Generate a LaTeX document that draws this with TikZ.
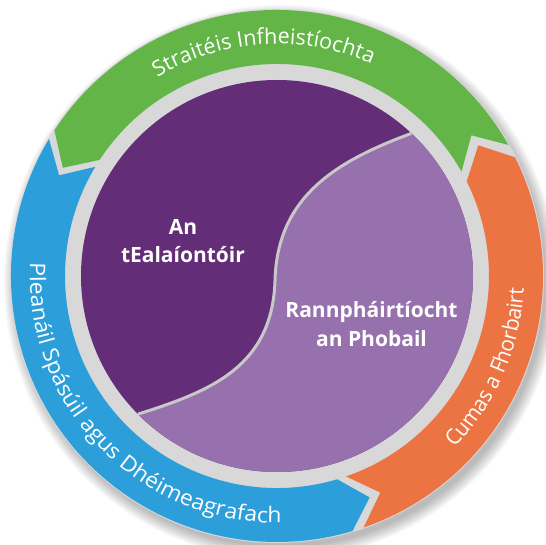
\documentclass[tikz,border=0pt]{standalone}
\usepackage{fontspec}
\newfontfamily\ringfont{Open Sans}
\newfontfamily\ringfontwide{Open Sans}[FakeStretch=1.07]
\newfontfamily\ringfontnarrow{Open Sans}[FakeStretch=0.96]
\usetikzlibrary{decorations.text}
\definecolor{arrgreen}{HTML}{63B548}
\definecolor{arrblue}{HTML}{2C9FDB}
\definecolor{arrorange}{HTML}{EC7443}
\definecolor{darkpurple}{HTML}{632E77}
\definecolor{lightpurple}{HTML}{9771AD}
\definecolor{ringgray}{HTML}{D8D8D8}
\definecolor{seamgray}{HTML}{C8C8C8}
\pgfdeclareradialshading{ringshade}{\pgfpoint{0bp}{0bp}}{%
  color(0bp)=(ringgray); color(45.5bp)=(ringgray); color(46.2bp)=(black!22);
  color(48bp)=(black!12); color(50bp)=(black!10)}
\newcommand\ringarrow[4]{%
  \fill[#1] (#2:266pt) arc[start angle=#2, end angle=#3, radius=266pt]
    -- ({#3+#4}:240pt) -- (#3:212pt)
    arc[start angle=#3, end angle=#2, radius=212pt]
    -- ({#2+#4}:240pt) -- cycle;}
\tikzset{
  innerlabel/.style={text=white, font=\ringfont\bfseries\fontsize{21}{25}\selectfont, anchor=base, inner sep=0pt},
  ringtext/.style 2 args={decorate, decoration={text along path, text align=center,
      text={|#1\fontsize{21.5}{25}\selectfont\color{white}|#2}}}
}
\begin{document}
\begin{tikzpicture}
\useasboundingbox (-277pt,-269pt) rectangle (269pt,276pt);
\fill[white] (-277pt,-269pt) rectangle (269pt,276pt);
% soft drop shadow
\foreach \i in {1,...,12}{
  \fill[black, opacity=0.022] (4pt,-6pt) circle[radius={264pt+\i*1.1pt}];
}
% base gray ring
\fill[ringgray] (0,0) circle[radius=267pt];
\shade[shading=ringshade] (0,0) circle[radius=213pt];
% three arrows (counterclockwise)
\ringarrow{arrorange}{289}{386.5}{6.5}
\ringarrow{arrgreen}{29.5}{146.8}{6.4}
\ringarrow{arrblue}{149}{286.5}{6.2}
% inner disc
\fill[darkpurple] (0,0) circle[radius=196pt];
\coordinate (p1) at (46.7:196pt);
\coordinate (p2) at (224.8:196pt);
\coordinate (m) at (-2pt,-5pt);
\fill[lightpurple] (p1) arc[start angle=46.7, end angle=-135.2, radius=196pt]
  .. controls (-65pt,-115pt) and (-5pt,-90pt) .. (m)
  .. controls (0pt,80pt) and (60pt,115pt) .. (p1) -- cycle;
\draw[seamgray, line width=3pt] (p2)
  .. controls (-65pt,-115pt) and (-5pt,-90pt) .. (m)
  .. controls (0pt,80pt) and (60pt,115pt) .. (p1);
% labels on the inner disc
\node[innerlabel] (an) at (-94pt,41pt) {An};
\node[innerlabel] (teal) at (-94pt,13pt) {tEalaíontóir};
\node[innerlabel] (rann) at (94.5pt,-42pt) {Rannpháirtíocht};
\node[innerlabel] (phob) at (94.5pt,-71pt) {an Phobail};
% ring texts
\path[ringtext={\ringfont}{Straitéis Infheistíochta}] (153.5:232pt) arc[start angle=153.5, end angle=33.5, radius=232pt];
\path[ringtext={\ringfontwide}{Pleanáil Spásúil agus Dhéimeagrafach}] (150:247pt) arc[start angle=150, end angle=298, radius=247pt];
\path[ringtext={\ringfontnarrow}{Cumas a Fhorbairt}] (296.5:247pt) arc[start angle=296.5, end angle=376.5, radius=247pt];
\end{tikzpicture}
\end{document}
